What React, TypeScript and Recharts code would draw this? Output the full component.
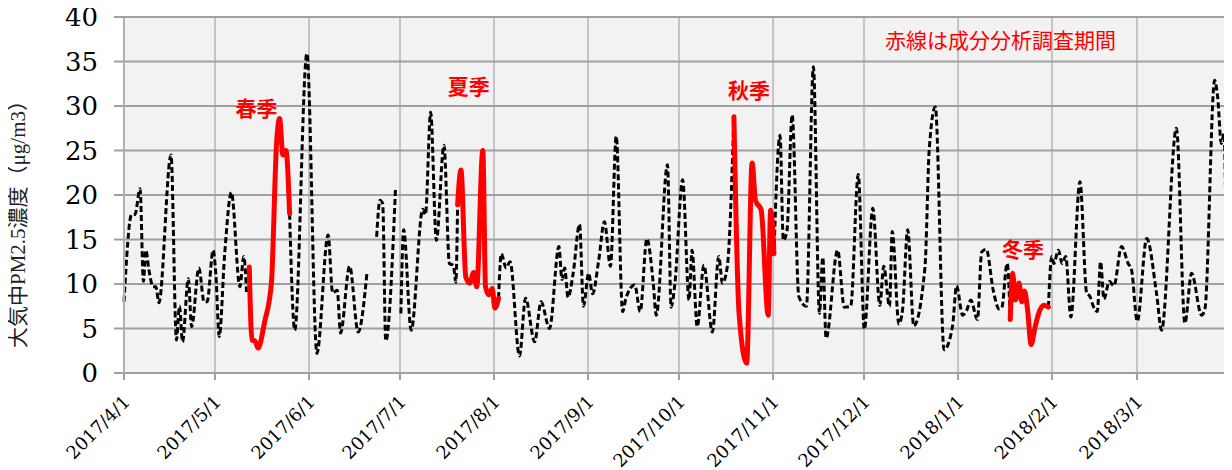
import React from 'react';
import { CartesianGrid, Line, LineChart, ReferenceDot, ReferenceLine, XAxis, YAxis } from 'recharts';

// x = days since 2017/4/1
const monthTicks = [0, 30, 61, 91, 122, 153, 183, 214, 244, 275, 306, 334];
const monthLabels = [
  '2017/4/1', '2017/5/1', '2017/6/1', '2017/7/1', '2017/8/1', '2017/9/1',
  '2017/10/1', '2017/11/1', '2017/12/1', '2018/1/1', '2018/2/1', '2018/3/1',
];
const yTicks = [0, 5, 10, 15, 20, 25, 30, 35, 40];

// daily PM2.5 (µg/m3), null = no data / red survey period
const basePm: [number, number | null][] = [
  [0, 8.0], [2.5, 17.8], [3.6, 17.8], [5.3, 20.7], [6.4, 10.3], [7.2, 13.8], [8.2, 11.6], [9.6, 9.7],
  [10.5, 9.7], [11.5, 7.9], [15.5, 24.5], [17.3, 3.7], [18.3, 7.5], [19.3, 3.5], [21.2, 10.6], [22.3, 5.2],
  [24.7, 11.8], [26.4, 8.0], [27.4, 8.0], [29.4, 13.8], [30.3, 11.0], [31.4, 4.1], [33.2, 13.4], [35.4, 20.3],
  [38.2, 9.7], [39.5, 13.1], [40.4, 9.1],
  [47, null],
  [54.6, 17.9], [56.3, 4.8], [60.3, 35.9], [63.6, 2.2], [67.3, 15.5], [68.8, 9.0], [70.3, 9.3], [71.4, 4.5],
  [74.4, 12.0], [77.2, 4.6], [80.1, 11.2],
  [81.7, null],
  [83.3, 15.3], [84.4, 19.4], [85.3, 19.0], [86.3, 3.6], [89.5, 20.6],
  [90.5, null],
  [91.3, 6.7], [92.2, 16.1], [94.7, 4.8], [98.5, 18.4], [99.4, 17.8], [101.1, 29.3], [103.0, 14.9], [105.5, 25.6],
  [107.3, 12.3], [108.6, 12.1], [109.4, 10.2], [110.0, 18.9],
  [117, null],
  [123.5, 8.4], [124.4, 13.4], [126.0, 11.8], [127.3, 12.5], [130.4, 1.9], [132.4, 8.4], [135.4, 3.5], [137.5, 8.0],
  [140.3, 5.0], [143.4, 14.2], [144.4, 10.5], [145.3, 11.8], [146.4, 8.5], [148.1, 11.2], [150.2, 16.7], [151.5, 7.5],
  [153.2, 11.2], [154.5, 8.9], [156.5, 12.6], [158.4, 17.0], [160.4, 12.0], [162.3, 26.6], [164.4, 6.9], [165.5, 8.4],
  [168.4, 9.9], [170.2, 6.9], [172.4, 15.1], [174.5, 10.1], [175.5, 6.5], [179.2, 23.4], [180.4, 7.4], [181.6, 9.9],
  [184.2, 21.7], [186.3, 8.2], [187.3, 13.8], [189.0, 5.2], [191.2, 12.1], [194.0, 4.6], [196.1, 13.1], [197.3, 10.1],
  [198.9, 11.9], [201.1, 28.8],
  [208, null],
  [214.3, 13.4], [216.3, 26.7], [217.4, 14.9], [218.6, 16.0], [220.3, 29.0], [222.5, 8.6], [225.0, 7.5], [227.3, 34.4],
  [229.3, 6.7], [230.4, 13.0], [231.5, 3.9], [235.3, 13.8], [237.5, 7.4], [239.6, 7.5], [242.1, 22.3], [244.1, 4.9],
  [246.9, 18.5], [249.2, 7.6], [250.5, 12.0], [252.4, 7.5], [253.3, 15.9], [255.5, 5.5], [256.7, 7.1], [258.4, 16.1],
  [260.4, 5.3], [264.1, 11.9], [265.5, 25.1], [267.5, 29.9], [270.4, 2.6], [273.2, 5.3], [274.5, 9.8], [276.5, 6.5],
  [277.8, 7.0], [279.2, 8.2], [281.4, 6.0], [282.8, 13.6], [284.3, 13.9], [286.6, 9.3], [288.5, 7.2], [289.4, 7.3],
  [291.2, 12.3], [292.2, 6.0],
  [298, null],
  [304.8, 7.4], [305.9, 13.1], [306.6, 12.3], [308.1, 13.8], [309.3, 12.3], [310.5, 13.1], [312.2, 6.3], [315.2, 21.5],
  [317.4, 9.0], [318.5, 8.6], [319.6, 7.5], [320.9, 6.9], [322.0, 12.5], [323.1, 8.3], [324.9, 10.3], [326.4, 9.8],
  [328.9, 14.2], [331.1, 12.3], [332.2, 11.6], [334.1, 5.8], [337.2, 15.1], [340.5, 8.8], [342.1, 4.8], [347.0, 27.5],
  [349.8, 5.6], [352.0, 11.2], [355.3, 6.5], [356.4, 7.2], [359.6, 32.9], [360.6, 31.0], [361.8, 25.8], [362.7, 26.9],
  [363.9, 9.3], [364.6, 10.6],
];

// red = component analysis survey periods
const springPm: [number, number][] = [
  [41.3, 11.9], [42.2, 3.7], [43.2, 3.6], [44.2, 2.8], [46.4, 5.8], [48.6, 10.1], [50.3, 25.8], [51.3, 28.6],
  [52.4, 24.5], [53.4, 25.0], [54.6, 17.9],
];
const summerPm: [number, number][] = [
  [110.0, 18.9], [111.1, 22.8], [112.7, 10.8], [114.0, 10.1], [115.3, 11.3], [116.3, 9.7], [118.3, 25.0],
  [119.2, 9.7], [120.3, 8.8], [121.4, 9.5], [122.3, 7.3], [123.5, 8.4],
];
const autumnPm: [number, number][] = [
  [201.1, 28.8], [202.8, 6.7], [205.3, 1.1], [207.1, 23.6], [208.2, 19.4], [210.1, 18.3], [212.4, 6.5],
  [213.2, 18.3], [214.3, 13.4],
];
const winterPm: [number, number][] = [
  [292.2, 6.0], [293.0, 11.2], [293.9, 8.2], [295.1, 10.1], [296.0, 8.0], [296.9, 9.2], [297.9, 7.2],
  [299.1, 3.2], [300.3, 5.0], [301.5, 6.6], [303.2, 7.6], [304.8, 7.4],
];

const seasonNames = ['春季', '夏季', '秋季', '冬季'];
const seasonSpots = [[43.7, 29.7], [113.7, 32.2], [206.1, 31.7], [296.4, 13.9]];

const toRows = (pairs: [number, number | null][]) => pairs.map(([day, pm]) => ({ day, pm }));

const serif = '"DejaVu Serif", serif';
const jp = '"Noto Sans CJK JP", sans-serif';
const gridDark = '#a0a0a0';
const gridLight = '#c4c4c4';

const XTick = (props: any) => {
  const { x, y, payload } = props;
  const ax = x + 7;
  const ay = y + 21;
  return (
    <text x={ax} y={ay} transform={`rotate(-45 ${ax} ${ay})`} textAnchor="end" fontSize={18} fontFamily={serif} fill="#000">
      {monthLabels[monthTicks.indexOf(payload.value)]}
    </text>
  );
};

const YLabel = (props: any) => {
  const vb = props.viewBox || { x: 0, y: 17, width: 124, height: 356 };
  const cx = vb.x + 18;
  const cy = vb.y + vb.height / 2 + 24;
  return (
    <text
      x={cx}
      y={cy}
      transform={`rotate(-90 ${cx} ${cy})`}
      textAnchor="middle"
      dominantBaseline="central"
      fontSize={21}
      fontFamily='"Liberation Serif", "Noto Sans CJK JP", serif'
      fill="#222"
    >
      大気中PM2.5濃度（μg/m3）
    </text>
  );
};

const seasons = [springPm, summerPm, autumnPm, winterPm];

const App = () => {
  return (
    <div style={{ width: 1232, height: 470, margin: '-8px 0 0 -8px' }}>
      <LineChart width={1232} height={470} margin={{ top: 17, right: 1, bottom: 0, left: 0 }}>
        <CartesianGrid horizontal={false} stroke={gridLight} strokeWidth={2} fill="#f2f2f2" />
        <CartesianGrid vertical={false} stroke={gridDark} strokeWidth={2} />
        <ReferenceLine x={365} stroke={gridLight} strokeWidth={2} />
        <XAxis
          dataKey="day"
          type="number"
          domain={[0, 365]}
          ticks={monthTicks}
          interval={0}
          height={97}
          tickSize={7}
          tick={<XTick />}
          tickLine={{ stroke: gridDark, strokeWidth: 2 }}
          axisLine={{ stroke: gridDark, strokeWidth: 2 }}
        />
        <YAxis
          type="number"
          domain={[0, 40]}
          ticks={yTicks}
          interval={0}
          width={124}
          tickSize={10}
          tickMargin={16}
          tick={{ fontSize: 26, fontFamily: serif, fill: '#000' }}
          tickLine={{ stroke: gridDark, strokeWidth: 2 }}
          axisLine={{ stroke: '#b0b0b0', strokeWidth: 2 }}
          label={<YLabel />}
        />
        <Line
          data={toRows(basePm)}
          dataKey="pm"
          type="monotone"
          stroke="#000"
          strokeWidth={3}
          strokeDasharray="6 3"
          dot={false}
          activeDot={false}
          connectNulls={false}
          isAnimationActive={false}
        />
        {seasons.map((s, i) => (
          <Line
            key={i}
            data={toRows(s)}
            dataKey="pm"
            type="monotone"
            stroke="#ff0000"
            strokeWidth={5}
            strokeLinejoin="round"
            strokeLinecap="round"
            dot={false}
            activeDot={false}
            isAnimationActive={false}
          />
        ))}
        {seasonNames.map((name, i) => (
          <ReferenceDot
            key={name}
            x={seasonSpots[i][0]}
            y={seasonSpots[i][1]}
            r={1}
            fill="transparent"
            stroke="none"
            label={{ value: name, position: 'center', fill: '#ff0000', fontSize: 21, fontWeight: 'bold', fontFamily: jp }}
          />
        ))}
        <ReferenceDot
          x={289}
          y={37.3}
          r={1}
          fill="transparent"
          stroke="none"
          label={{ value: '赤線は成分分析調査期間', position: 'center', fill: '#ff0000', fontSize: 21, fontFamily: jp }}
        />
      </LineChart>
    </div>
  );
};

export default App;
